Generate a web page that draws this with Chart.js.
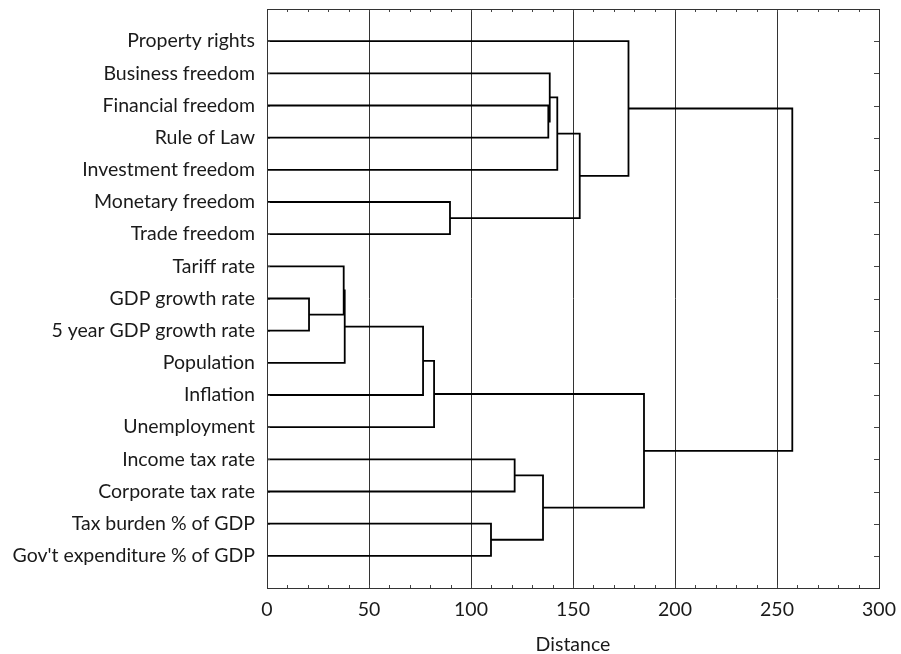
<!DOCTYPE html>
<html>
<head>
<meta charset="utf-8">
<script src="https://cdn.jsdelivr.net/npm/chart.js@4"></script>
<style>
  html, body { margin: 0; padding: 0; background: #fff; }
  #wrap { width: 901px; height: 654px; }
</style>
</head>
<body>
<div id="wrap"><canvas id="c"></canvas></div>
<script>
// Leaf variables, listed top to bottom
const leaves = [
  "Property rights", "Business freedom", "Financial freedom", "Rule of Law",
  "Investment freedom", "Monetary freedom", "Trade freedom", "Tariff rate",
  "GDP growth rate", "5 year GDP growth rate", "Population", "Inflation",
  "Unemployment", "Income tax rate", "Corporate tax rate",
  "Tax burden % of GDP", "Gov't expenditure % of GDP"
];

// Linkage: cluster 17+k joins mergeA[k] and mergeB[k] at mergeHeight[k]
// (ids below 17 are leaves, higher ids are earlier clusters)
const mergeA      = [8,    7,    18,   19,   20,   5,    15,    13,    24,    2,     1,     27,    28,    0,     21,    30];
const mergeB      = [9,    17,   10,   11,   12,   6,    16,    14,    23,    3,     26,    4,     22,    29,    25,    31];
const mergeHeight = [20.6, 37.6, 38.1, 76.5, 81.9, 89.7, 109.8, 121.4, 135.3, 137.9, 138.6, 142.3, 153.3, 177.2, 184.8, 257.5];

const xTicks = [0, 50, 100, 150, 200, 250, 300];

const FONT = "Lato, 'Open Sans', sans-serif";
const TEXT = '#1a1a1a';

// row position and join height of every node
const pos = leaves.map((_, i) => i + 1);
const hgt = leaves.map(() => 0);
const datasets = [];
mergeA.forEach((a, k) => {
  const b = mergeB[k], h = mergeHeight[k];
  pos.push((pos[a] + pos[b]) / 2);
  hgt.push(h);
  datasets.push({
    data: [
      { x: hgt[a], y: pos[a] },
      { x: h, y: pos[a] },
      { x: h, y: pos[b] },
      { x: hgt[b], y: pos[b] }
    ],
    showLine: true,
    borderColor: '#000',
    borderWidth: 1.8,
    pointRadius: 0,
    fill: false,
    tension: 0
  });
});

// frame around the plot plus short inward tick marks on all four sides
const framePlugin = {
  id: 'frame',
  afterDraw(chart) {
    const { ctx, chartArea: a, scales } = chart;
    ctx.save();
    ctx.strokeStyle = '#444';
    ctx.lineWidth = 1;
    ctx.beginPath();
    for (let v = 10; v < 300; v += 10) {
      const x = Math.round(scales.x.getPixelForValue(v)) + 0.5;
      ctx.moveTo(x, a.top); ctx.lineTo(x, a.top + 3);
      ctx.moveTo(x, a.bottom); ctx.lineTo(x, a.bottom - 3);
    }
    for (let r = 1; r <= leaves.length; r++) {
      const y = Math.round(scales.y.getPixelForValue(r)) + 0.5;
      ctx.moveTo(a.left, y); ctx.lineTo(a.left + 3, y);
      ctx.moveTo(a.right, y); ctx.lineTo(a.right - 5, y);
    }
    ctx.stroke();
    ctx.strokeStyle = '#333';
    ctx.strokeRect(Math.round(a.left) + 0.5, Math.round(a.top) + 0.5,
                   Math.round(a.right - a.left), Math.round(a.bottom - a.top));
    ctx.restore();
  }
};

new Chart(document.getElementById('c'), {
  type: 'scatter',
  data: { datasets },
  options: {
    responsive: true,
    maintainAspectRatio: false,
    animation: false,
    layout: { padding: { top: 9, right: 22, left: 0, bottom: 0 } },
    plugins: { legend: { display: false }, tooltip: { enabled: false } },
    scales: {
      x: {
        type: 'linear',
        min: 0, max: 300,
        afterBuildTicks: s => { s.ticks = xTicks.map(v => ({ value: v })); },
        ticks: { color: TEXT, font: { family: FONT, size: 19.5 }, padding: 10, maxRotation: 0 },
        grid: {
          drawTicks: false,
          color: c => (c.tick && (c.tick.value === 0 || c.tick.value === 300)) ? 'rgba(0,0,0,0)' : '#333',
          lineWidth: 1
        },
        border: { display: false },
        title: {
          display: true, text: 'Distance', color: TEXT,
          font: { family: FONT, size: 19.5, lineHeight: 1 }, padding: { top: 0, bottom: 0 }
        },
        afterFit: s => { s.height = 66; s.paddingLeft = 0; s.paddingRight = 0; }
      },
      y: {
        type: 'linear',
        reverse: true,
        min: 0, max: 18,
        afterBuildTicks: s => { s.ticks = leaves.map((_, i) => ({ value: i + 1 })); },
        ticks: {
          autoSkip: false,
          color: TEXT,
          font: { family: FONT, size: 19.5 },
          padding: 12,
          callback: v => leaves[v - 1] || ''
        },
        grid: { display: false, drawTicks: false },
        border: { display: false },
        afterFit: s => { s.width = 267; s.paddingTop = 0; s.paddingBottom = 0; }
      }
    }
  },
  plugins: [framePlugin]
});
</script>
</body>
</html>
